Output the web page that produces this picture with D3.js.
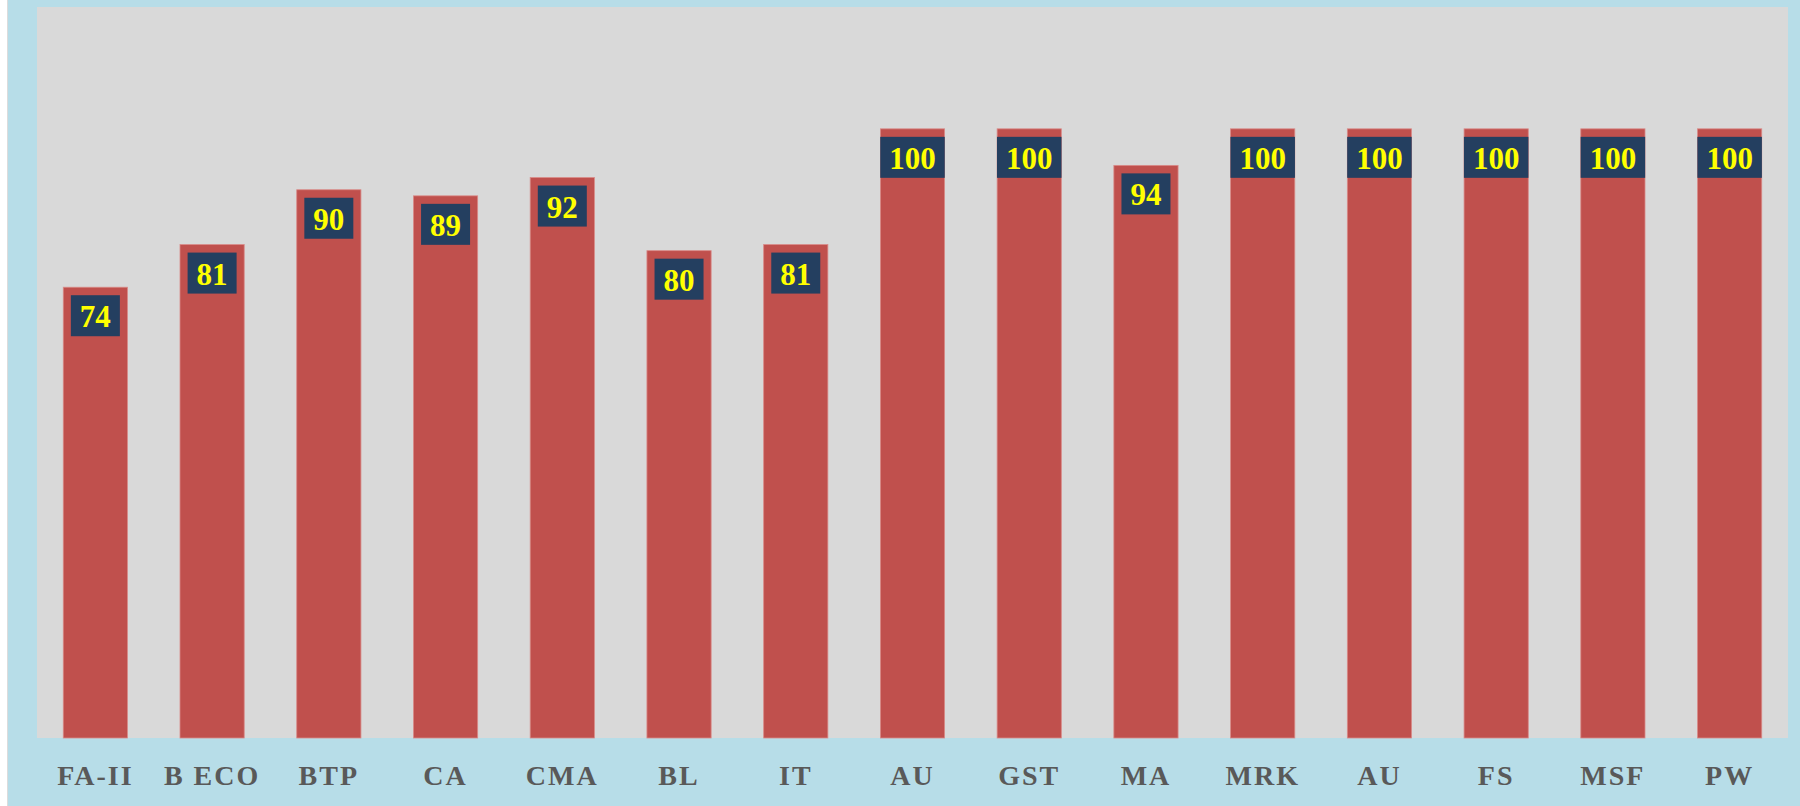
<!DOCTYPE html>
<html>
<head>
<meta charset="utf-8">
<script src="https://cdn.jsdelivr.net/npm/d3@7"></script>
<style>
  html, body { margin: 0; padding: 0; background: #fff; }
  svg { display: block; }
</style>
</head>
<body>
<div id="chart"></div>
<script>
  // subjects and scores
  const subjects = ["FA-II", "B ECO", "BTP", "CA", "CMA", "BL", "IT", "AU", "GST", "MA", "MRK", "AU", "FS", "MSF", "PW"];
  const scores = [74, 81, 90, 89, 92, 80, 81, 100, 100, 94, 100, 100, 100, 100, 100];

  const width = 1800, height = 806;
  const plot = { left: 37, right: 1788, top: 7, bottom: 738 };

  const data = subjects.map((s, i) => ({ key: i, name: s, value: scores[i] }));

  const svg = d3.select("#chart").append("svg")
    .attr("width", width)
    .attr("height", height);

  // outer background
  svg.append("rect")
    .attr("x", 8).attr("y", 0)
    .attr("width", width - 8).attr("height", height)
    .attr("fill", "#b7dde8");
  svg.append("line")
    .attr("x1", 7.5).attr("x2", 7.5).attr("y1", 0).attr("y2", height)
    .attr("stroke", "#dcdcdc");

  // plot area
  svg.append("rect")
    .attr("x", plot.left).attr("y", plot.top)
    .attr("width", plot.right - plot.left).attr("height", plot.bottom - plot.top)
    .attr("fill", "#d9d9d9");

  const x = d3.scaleBand()
    .domain(data.map(d => d.key))
    .range([plot.left, plot.right])
    .paddingInner(0.45)
    .paddingOuter(0.225);

  const y = d3.scaleLinear()
    .domain([0, 120])
    .range([plot.bottom, plot.top]);

  const g = svg.append("g");

  g.selectAll("rect.bar")
    .data(data)
    .join("rect")
    .attr("class", "bar")
    .attr("x", d => x(d.key))
    .attr("y", d => y(d.value))
    .attr("width", x.bandwidth())
    .attr("height", d => y(0) - y(d.value))
    .attr("fill", "#c0504d")
    .attr("stroke", "#d98a88")
    .attr("stroke-width", 0.8);

  // value labels
  const labelH = 41;
  const labels = g.selectAll("g.lbl")
    .data(data)
    .join("g")
    .attr("class", "lbl")
    .attr("transform", d => `translate(${x(d.key) + x.bandwidth() / 2}, ${y(d.value) + 8})`);

  labels.append("text")
    .attr("y", labelH / 2 + 1)
    .attr("text-anchor", "middle")
    .attr("dominant-baseline", "central")
    .style("font-family", "'Liberation Serif', 'DejaVu Serif', serif")
    .style("font-weight", "bold")
    .style("font-size", "31px")
    .attr("fill", "#ffff00")
    .text(d => d.value);

  labels.each(function () {
    const grp = d3.select(this);
    const bb = grp.select("text").node().getBBox();
    const w = Math.min(bb.width + 18, x.bandwidth() + 2);
    grp.insert("rect", "text")
      .attr("x", -w / 2)
      .attr("y", 0)
      .attr("width", w)
      .attr("height", labelH)
      .attr("fill", "#243f60");
  });

  // category axis
  const xAxis = d3.axisBottom(x)
    .tickFormat(i => subjects[i])
    .tickSize(0);

  const axisG = svg.append("g")
    .attr("transform", `translate(0, ${plot.bottom})`)
    .call(xAxis);
  axisG.select(".domain").remove();
  axisG.selectAll("text")
    .attr("y", 47)
    .attr("dy", 0)
    .attr("fill", "#595959")
    .style("font-family", "'Liberation Serif', 'DejaVu Serif', serif")
    .style("font-weight", "bold")
    .style("font-size", "28px")
    .style("letter-spacing", "2px");
</script>
</body>
</html>
